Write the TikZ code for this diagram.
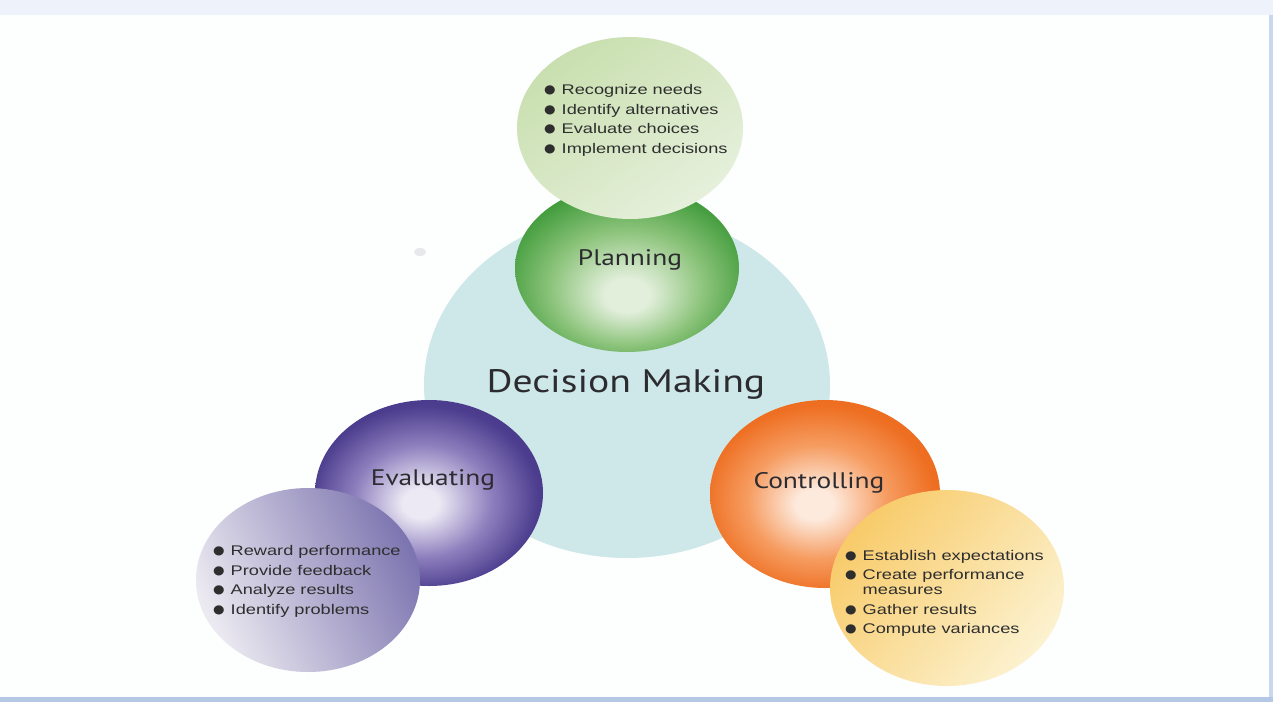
\documentclass[tikz,border=0pt]{standalone}
\usepackage{fontspec}
\setmainfont{Liberation Sans}
\newfontfamily\labelfont[FakeStretch=1.22]{PT Sans}
\newfontfamily\listfont[FakeStretch=1.3]{Liberation Sans}
\newfontfamily\bulfont[FakeStretch=1.1]{DejaVu Sans}
\usetikzlibrary{shapes.geometric}

\definecolor{bgwhite}{HTML}{FDFEFE}
\definecolor{topstrip}{HTML}{EEF2FB}
\definecolor{botstrip}{HTML}{B4C8E6}
\definecolor{edgeblue}{HTML}{C8D7EE}
\definecolor{bigc}{HTML}{CEE7E8}
\definecolor{txt}{HTML}{2C2C30}
\definecolor{listtxt}{HTML}{2E2E2E}
% green
\definecolor{gHi}{HTML}{E2EFDB}
\definecolor{gMid}{HTML}{8DC47C}
\definecolor{gEdge}{HTML}{429C3C}
\definecolor{gDark}{HTML}{3A9235}
% purple
\definecolor{pHi}{HTML}{ECE9F4}
\definecolor{pMid}{HTML}{8E80BE}
\definecolor{pEdge}{HTML}{4C3D8E}
\definecolor{pDark}{HTML}{453687}
% orange
\definecolor{oHi}{HTML}{FDEADD}
\definecolor{oMid}{HTML}{F69D62}
\definecolor{oEdge}{HTML}{EE6F22}
\definecolor{oDark}{HTML}{EC6A1E}
% list bubbles
\definecolor{tgDark}{HTML}{C9DFAF}
\definecolor{tgLight}{HTML}{E6F0DC}
\definecolor{lvDark}{HTML}{7D75B0}
\definecolor{lvLight}{HTML}{ECEAF1}
\definecolor{ylDark}{HTML}{F8CB6A}
\definecolor{ylLight}{HTML}{FCF2D0}
\definecolor{smudge}{HTML}{E6E8EA}

\pgfdeclareradialshading{greenball}{\pgfpoint{0bp}{-9bp}}{color(0bp)=(gHi); color(5bp)=(gHi); color(17bp)=(gMid); color(28bp)=(gEdge); color(36bp)=(gDark); color(50bp)=(gDark)}
\pgfdeclareradialshading{purpleball}{\pgfpoint{-2bp}{-3bp}}{color(0bp)=(pHi); color(4bp)=(pHi); color(15bp)=(pMid); color(25bp)=(pEdge); color(31bp)=(pDark); color(50bp)=(pDark)}
\pgfdeclareradialshading{orangeball}{\pgfpoint{-2.5bp}{-3bp}}{color(0bp)=(oHi); color(4bp)=(oHi); color(15bp)=(oMid); color(25bp)=(oEdge); color(31bp)=(oDark); color(50bp)=(oDark)}

\tikzset{
  bubble/.style={ellipse, inner sep=0pt, draw=none},
  lbl/.style={anchor=base, text=txt, inner sep=0pt},
  biglbl/.style={lbl, font=\labelfont\fontsize{32.5}{35}\selectfont},
  smalllbl/.style={lbl, font=\labelfont\fontsize{22.5}{25}\selectfont},
  listnode/.style={anchor=west, inner sep=0pt, text=listtxt, font=\listfont\fontsize{14}{19.5}\selectfont},
}
\newcommand{\bul}{\raisebox{0.8pt}{\bulfont\fontsize{12}{12}\selectfont ●}}

\begin{document}
\begin{tikzpicture}[x=1pt, y=-1pt]
\useasboundingbox (0,0) rectangle (1273,702);
\fill[bgwhite] (0,0) rectangle (1273,702);
\fill[topstrip] (0,0) rectangle (1273,15);
\fill[botstrip] (0,697) rectangle (1273,702);
\fill[edgeblue] (1269,15) rectangle (1273,697);
\fill[smudge] (420,252) ellipse [x radius=6pt, y radius=4pt];

% central circle
\node[bubble, fill=bigc, minimum width=406pt, minimum height=346pt] (dm) at (627,385) {};
\node[biglbl] (dmlabel) at (626,392) {Decision Making};

% planning
\node[bubble, shading=greenball, minimum width=224pt, minimum height=168pt] (plan) at (627,268) {};
\node[smalllbl] (planlabel) at (630,265) {Planning};
\node[bubble, top color=tgDark, bottom color=tgLight, shading angle=35, minimum width=226pt, minimum height=182pt] (planlist) at (630,128) {};
\node[listnode] (plantext) at (544,120) {\begin{tabular}{@{}l@{\hspace{6pt}}l@{}}
\bul & Recognize needs\\
\bul & Identify alternatives\\
\bul & Evaluate choices\\
\bul & Implement decisions
\end{tabular}};

% evaluating
\node[bubble, shading=purpleball, minimum width=228pt, minimum height=186pt] (eval) at (429,493) {};
\node[smalllbl] (evallabel) at (433,485) {Evaluating};
\node[bubble, top color=lvDark, bottom color=lvLight, shading angle=-65, minimum width=224pt, minimum height=184pt] (evallist) at (308,580) {};
\node[listnode] (evaltext) at (213,581) {\begin{tabular}{@{}l@{\hspace{6pt}}l@{}}
\bul & Reward performance\\
\bul & Provide feedback\\
\bul & Analyze results\\
\bul & Identify problems
\end{tabular}};

% controlling
\node[bubble, shading=orangeball, minimum width=230pt, minimum height=188pt] (ctrl) at (825,494) {};
\node[smalllbl] (ctrllabel) at (819,488) {Controlling};
\node[bubble, top color=ylDark, bottom color=ylLight, shading angle=50, minimum width=234pt, minimum height=196pt] (ctrllist) at (947,588) {};
\node[listnode] (ctrltext) at (845,593) {\begin{tabular}{@{}l@{\hspace{6pt}}l@{}}
\bul & Establish expectations\\
\bul & Create performance\\[-4.5pt]
 & measures\\
\bul & Gather results\\
\bul & Compute variances
\end{tabular}};
\end{tikzpicture}
\end{document}
